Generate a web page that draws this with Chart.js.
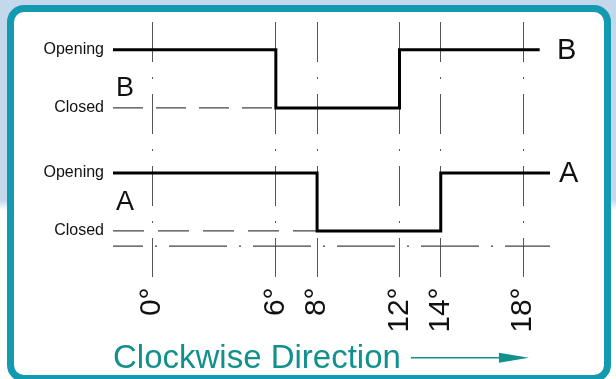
<!DOCTYPE html>
<html>
<head>
<meta charset="utf-8">
<script src="https://cdn.jsdelivr.net/npm/chart.js@4.4.1/dist/chart.umd.min.js"></script>
<style>
  html, body { margin: 0; padding: 0; }
  body {
    width: 616px; height: 379px; position: relative; overflow: hidden;
    background: linear-gradient(to bottom, #c3d8ea 0, #c3d8ea 200px, #ffffff 210px);
  }
  .frame {
    position: absolute; left: 7px; top: 5px; width: 590px; height: 363px;
    border: 7px solid #1399b0; border-radius: 17px; background: #fff;
  }
  .chart-area { position: absolute; left: 0; top: 0; width: 616px; height: 379px; }
</style>
</head>
<body>
<div class="frame"></div>
<div class="chart-area"><canvas id="myChart"></canvas></div>
<script>
const sans = "'Liberation Sans', Arial, sans-serif";

// angle ticks (degrees)
const xTicks = [0, 6, 8, 12, 14, 18];
const xMin = -1.9, xMax = 19.3;

// signal B: opening, closes at 6°, opens again at 12°
const bAngles = [-1.9, 6, 12, 18.8];
const bStates = [1, 0, 1, 1];
// signal A: opening, closes at 8°, opens again at 14°
const aAngles = [-1.9, 8, 14, 19.3];
const aStates = [1, 0, 1, 1];

// y levels [closed, opening] for each trace
const bLevels = [2.12, 3.12];
const aLevels = [0, 1];
const baseLevel = -0.26;

const yTickValues = [0, 1, 2.12, 3.12];
const yTickLabels = ["Closed", "Opening", "Closed", "Opening"];

const toPoints = (angles, states, levels) =>
  angles.map((x, i) => ({ x: x, y: levels[states[i]] }));

const sideLabels = {
  id: "sideLabels",
  afterDatasetsDraw(chart) {
    const { ctx, chartArea, scales: { y } } = chart;
    ctx.save();
    ctx.fillStyle = "#111";
    ctx.textBaseline = "middle";
    ctx.textAlign = "left";
    ctx.font = "29px " + sans;
    ctx.fillText("B", chartArea.right + 7, y.getPixelForValue(bLevels[1]) + 1);
    ctx.fillText("A", chartArea.right + 9, y.getPixelForValue(aLevels[1]) + 1);
    ctx.font = "27px " + sans;
    ctx.fillText("B", chartArea.left + 3, y.getPixelForValue(bLevels[0]) - 19);
    ctx.fillText("A", chartArea.left + 3, y.getPixelForValue((aLevels[0] + aLevels[1]) / 2) + 1);
    ctx.restore();
  },
  afterDraw(chart) {
    // arrow after the title
    const t = chart.titleBlock;
    if (!t) return;
    const { ctx } = chart;
    ctx.save();
    ctx.font = "33px " + sans;
    const w = ctx.measureText(t.options.text).width;
    const x0 = t.left + w + 10;
    const x1 = x0 + 118;
    const yy = (t.top + t.bottom) / 2 + 3;
    ctx.strokeStyle = "#12908c";
    ctx.fillStyle = "#12908c";
    ctx.lineWidth = 1.5;
    ctx.beginPath();
    ctx.moveTo(x0, yy);
    ctx.lineTo(x1 - 28, yy);
    ctx.stroke();
    ctx.beginPath();
    ctx.moveTo(x1 - 30, yy - 5);
    ctx.lineTo(x1, yy);
    ctx.lineTo(x1 - 30, yy + 5);
    ctx.closePath();
    ctx.fill();
    ctx.restore();
  }
};

const chartRef = document.getElementById("myChart").getContext("2d");
new Chart(chartRef, {
  type: "line",
  data: {
    datasets: [
      {
        label: "B",
        data: toPoints(bAngles, bStates, bLevels),
        stepped: "before",
        borderColor: "#000",
        borderWidth: 3,
        pointRadius: 0,
      },
      {
        label: "A",
        data: toPoints(aAngles, aStates, aLevels),
        stepped: "before",
        borderColor: "#000",
        borderWidth: 3,
        pointRadius: 0,
      },
      {
        label: "B closed",
        data: [{ x: xMin, y: bLevels[0] }, { x: bAngles[1], y: bLevels[0] }],
        borderColor: "#444",
        borderWidth: 1.2,
        borderDash: [30, 13],
        pointRadius: 0,
      },
      {
        label: "A closed",
        data: [{ x: xMin, y: aLevels[0] }, { x: aAngles[1], y: aLevels[0] }],
        borderColor: "#444",
        borderWidth: 1.2,
        borderDash: [31, 14],
        pointRadius: 0,
      },
      {
        label: "base",
        data: [{ x: xMin, y: baseLevel }, { x: xMax, y: baseLevel }],
        borderColor: "#444",
        borderWidth: 1.2,
        borderDash: [58, 12, 2, 12],
        borderDashOffset: 28,
        pointRadius: 0,
      },
    ],
  },
  options: {
    responsive: true,
    maintainAspectRatio: false,
    animation: false,
    layout: { padding: { top: 22, right: 66, left: 0, bottom: 0 } },
    plugins: {
      legend: { display: false },
      tooltip: { enabled: false },
      title: {
        display: true,
        position: "bottom",
        align: "start",
        fullSize: false,
        text: "Clockwise Direction",
        color: "#12908c",
        font: { family: sans, size: 33, weight: "normal" },
        padding: { top: 9, bottom: 0 },
      },
    },
    scales: {
      x: {
        type: "linear",
        min: xMin,
        max: xMax,
        afterBuildTicks: (scale) => {
          scale.ticks = xTicks.map((v) => ({ value: v }));
        },
        afterFit: (scale) => {
          scale.height = 53;
        },
        ticks: {
          autoSkip: false,
          minRotation: 90,
          maxRotation: 90,
          padding: 10,
          color: "#111",
          font: { family: sans, size: 30 },
          callback: (v) => v + "°",
        },
        grid: { color: "#555", lineWidth: 1, drawTicks: false },
        border: { display: false, dash: [40, 15, 2, 15] },
      },
      y: {
        type: "linear",
        min: -0.8,
        max: 3.6,
        afterBuildTicks: (scale) => {
          scale.ticks = yTickValues.map((v) => ({ value: v }));
        },
        afterFit: (scale) => {
          scale.width = 113;
        },
        ticks: {
          padding: 9,
          color: "#111",
          font: { family: sans, size: 16 },
          callback: (v, i) => yTickLabels[i],
        },
        grid: { display: false, drawTicks: false },
        border: { display: false },
      },
    },
  },
  plugins: [sideLabels],
});
</script>
</body>
</html>
